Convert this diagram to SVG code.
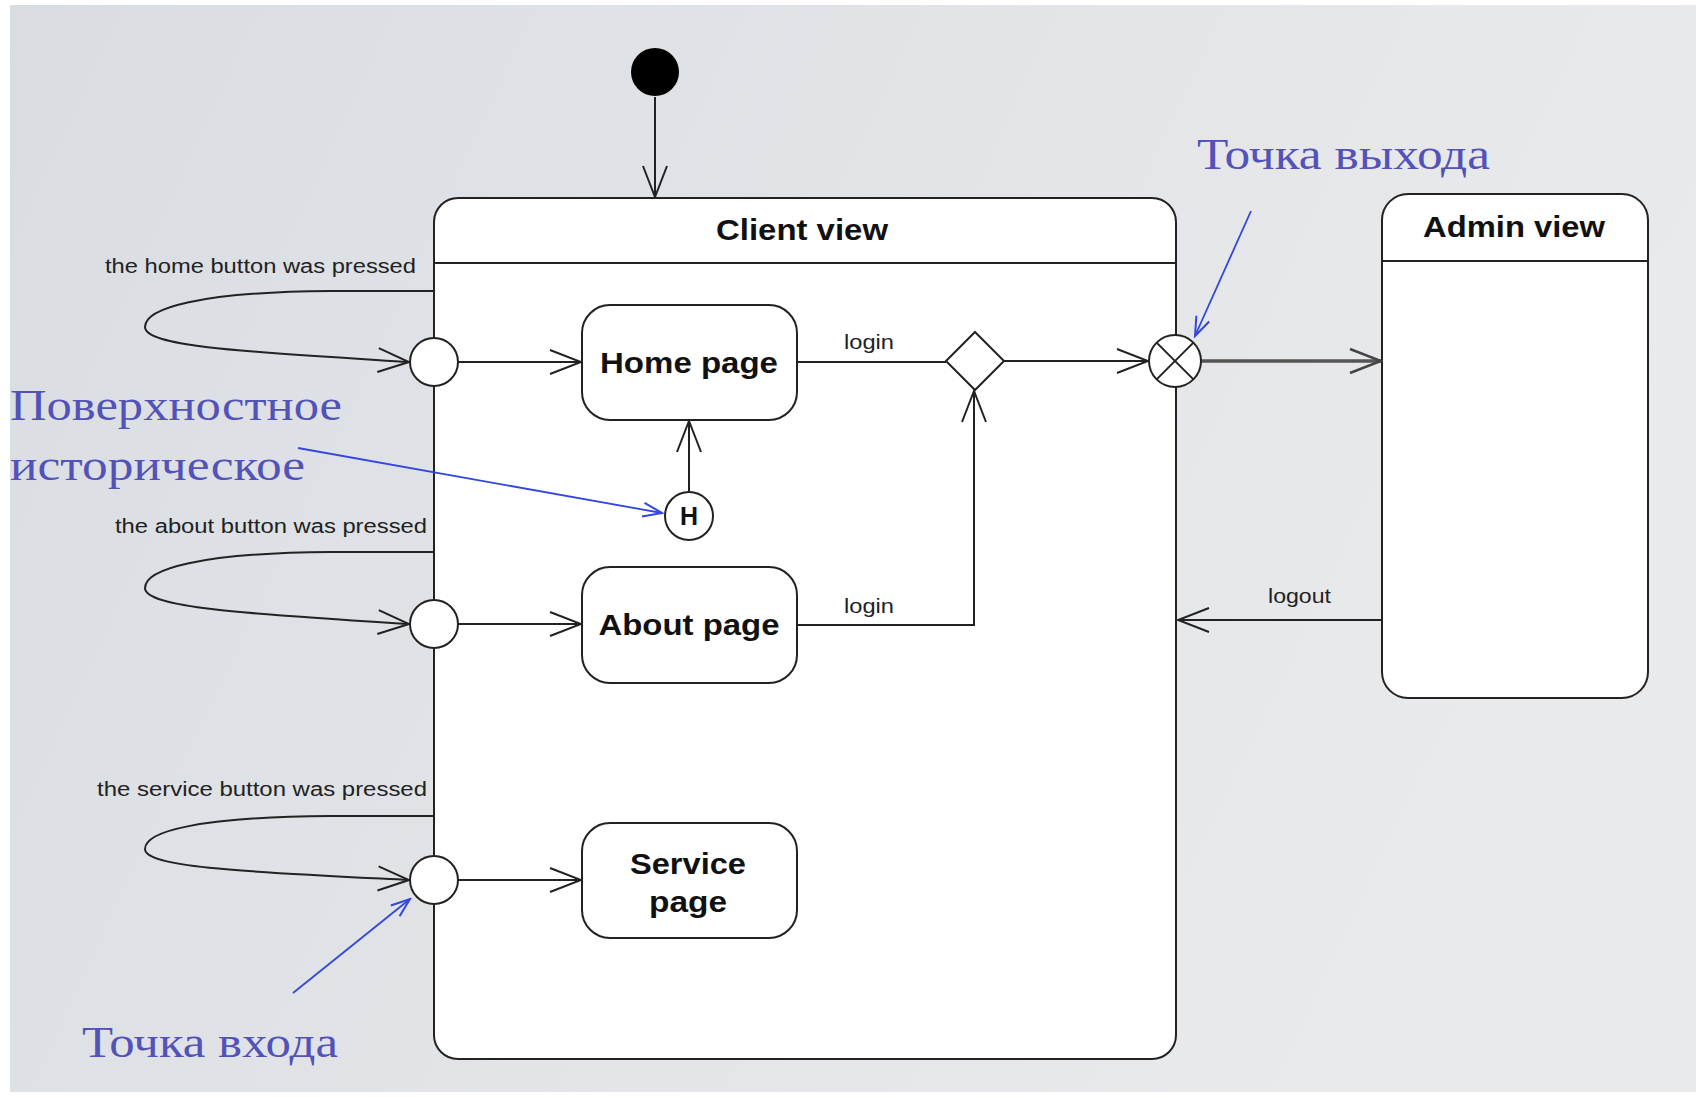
<svg xmlns="http://www.w3.org/2000/svg" width="1696" height="1102" viewBox="0 0 1696 1102">
<defs>
<linearGradient id="bg" x1="0" y1="0" x2="1" y2="0.3">
<stop offset="0" stop-color="#d9dde2"/>
<stop offset="0.6" stop-color="#e3e5e8"/>
<stop offset="1" stop-color="#e9eaec"/>
</linearGradient>
<marker id="open" viewBox="-34 -16 36 32" refX="0" refY="0" markerWidth="36" markerHeight="32" orient="auto" markerUnits="userSpaceOnUse">
<path d="M-31,-12 L0,0 L-31,12" fill="none" stroke="#222" stroke-width="2"/>
</marker>
<marker id="openg" viewBox="-34 -16 36 32" refX="0" refY="0" markerWidth="36" markerHeight="32" orient="auto" markerUnits="userSpaceOnUse">
<path d="M-31,-12 L0,0 L-31,12" fill="none" stroke="#444" stroke-width="2.5"/>
</marker>
<marker id="blue" viewBox="-22 -10 24 20" refX="0" refY="0" markerWidth="24" markerHeight="20" orient="auto" markerUnits="userSpaceOnUse">
<path d="M-19,-7 L0,0 L-19,7" fill="none" stroke="#3346dd" stroke-width="2"/>
</marker>
</defs>
<style>
.box{fill:#fff;stroke:#222;stroke-width:2}
.ln{fill:none;stroke:#222;stroke-width:2}
.title{font-family:"Liberation Sans",Arial,sans-serif;font-weight:bold;font-size:30px;fill:#111;text-anchor:middle}
.lbl{font-family:"Liberation Sans",Arial,sans-serif;font-size:20px;fill:#222}
.note{font-family:"Liberation Serif","Times New Roman",serif;font-size:44px;fill:#5252b8}
.bl{fill:none;stroke:#3346dd;stroke-width:1.8}
</style>
<rect x="0" y="0" width="1696" height="1102" fill="#ffffff"/>
<rect x="10" y="5" width="1686" height="1087" fill="url(#bg)"/>

<g id="client-view">
<rect class="box" x="434" y="198" width="742" height="861" rx="24"/>
<line class="ln" x1="434" y1="263" x2="1176" y2="263"/>
<text class="title" x="802" y="240" textLength="172" lengthAdjust="spacingAndGlyphs">Client view</text>
</g>

<g id="admin-view">
<rect class="box" x="1382" y="194" width="266" height="504" rx="26"/>
<line class="ln" x1="1382" y1="261" x2="1648" y2="261"/>
<text class="title" x="1514" y="237" textLength="182" lengthAdjust="spacingAndGlyphs">Admin view</text>
</g>

<g id="initial">
<circle cx="655" cy="72" r="24" fill="#000"/>
</g>

<g id="home-page">
<rect class="box" x="582" y="305" width="215" height="115" rx="28"/>
<text class="title" x="689" y="373" textLength="178" lengthAdjust="spacingAndGlyphs">Home page</text>
</g>
<g id="about-page">
<rect class="box" x="582" y="567" width="215" height="116" rx="28"/>
<text class="title" x="689" y="635" textLength="181" lengthAdjust="spacingAndGlyphs">About page</text>
</g>
<g id="service-page">
<rect class="box" x="582" y="823" width="215" height="115" rx="28"/>
<text class="title" x="688" y="874" textLength="116" lengthAdjust="spacingAndGlyphs">Service</text>
<text class="title" x="688" y="912" textLength="78" lengthAdjust="spacingAndGlyphs">page</text>
</g>

<g id="connectors">
<path class="ln" d="M655,97 L655,197" marker-end="url(#open)"/>
<path class="ln" d="M458,362 L581,362" marker-end="url(#open)"/>
<path class="ln" d="M458,624 L581,624" marker-end="url(#open)"/>
<path class="ln" d="M458,880 L581,880" marker-end="url(#open)"/>
<path class="ln" d="M434,291 L330,291 C200,292 145,308 145,327 C145,347 250,352 409,362" marker-end="url(#open)"/>
<path class="ln" d="M434,552 L330,552 C200,553 145,569 145,588 C145,608 250,614 409,624" marker-end="url(#open)"/>
<path class="ln" d="M434,816 L330,816 C200,817 145,831 145,849 C145,868 250,872 409,880" marker-end="url(#open)"/>
<path class="ln" d="M797,362 L946,362"/>
<path class="ln" d="M797,625 L974,625 L974,391" marker-end="url(#open)"/>
<path class="ln" d="M1004,361 L1148,361" marker-end="url(#open)"/>
<path d="M1201,361 L1381,361" fill="none" stroke="#555" stroke-width="3.5" marker-end="url(#openg)"/>
<path class="ln" d="M689,492 L689,421" marker-end="url(#open)"/>
<path class="ln" d="M1382,620 L1178,620" marker-end="url(#open)"/>
<text class="lbl" x="105" y="273" textLength="311" lengthAdjust="spacingAndGlyphs">the home button was pressed</text>
<text class="lbl" x="115" y="533" textLength="312" lengthAdjust="spacingAndGlyphs">the about button was pressed</text>
<text class="lbl" x="97" y="796" textLength="330" lengthAdjust="spacingAndGlyphs">the service button was pressed</text>
<text class="lbl" x="844" y="349" textLength="50" lengthAdjust="spacingAndGlyphs">login</text>
<text class="lbl" x="844" y="613" textLength="50" lengthAdjust="spacingAndGlyphs">login</text>
<text class="lbl" x="1268" y="603" textLength="63" lengthAdjust="spacingAndGlyphs">logout</text>
</g>

<g id="entry-points">
<circle class="box" cx="434" cy="362" r="24"/>
<circle class="box" cx="434" cy="624" r="24"/>
<circle class="box" cx="434" cy="880" r="24"/>
</g>

<g id="history">
<circle class="box" cx="689" cy="516" r="24"/>
<text x="689" y="525" font-family="'Liberation Sans',Arial,sans-serif" font-weight="bold" font-size="25" fill="#111" text-anchor="middle">H</text>
</g>

<g id="choice">
<polygon class="box" points="975,332 1004,361 975,390 946,361"/>
</g>

<g id="exit-point">
<circle class="box" cx="1175" cy="361" r="26"/>
<line class="ln" x1="1156.6" y1="342.6" x2="1193.4" y2="379.4"/>
<line class="ln" x1="1193.4" y1="342.6" x2="1156.6" y2="379.4"/>
</g>

<g id="annotations">
<text class="note" x="10" y="420" textLength="332" lengthAdjust="spacingAndGlyphs">Поверхностное</text>
<text class="note" x="10" y="480" textLength="295" lengthAdjust="spacingAndGlyphs">историческое</text>
<text class="note" x="1197" y="169" textLength="293" lengthAdjust="spacingAndGlyphs">Точка выхода</text>
<text class="note" x="82" y="1057" textLength="256" lengthAdjust="spacingAndGlyphs">Точка входа</text>
<path class="bl" d="M298,448 L662,513" marker-end="url(#blue)"/>
<path class="bl" d="M1251,211 L1195,336" marker-end="url(#blue)"/>
<path class="bl" d="M293,993 L410,899" marker-end="url(#blue)"/>
</g>
</svg>
